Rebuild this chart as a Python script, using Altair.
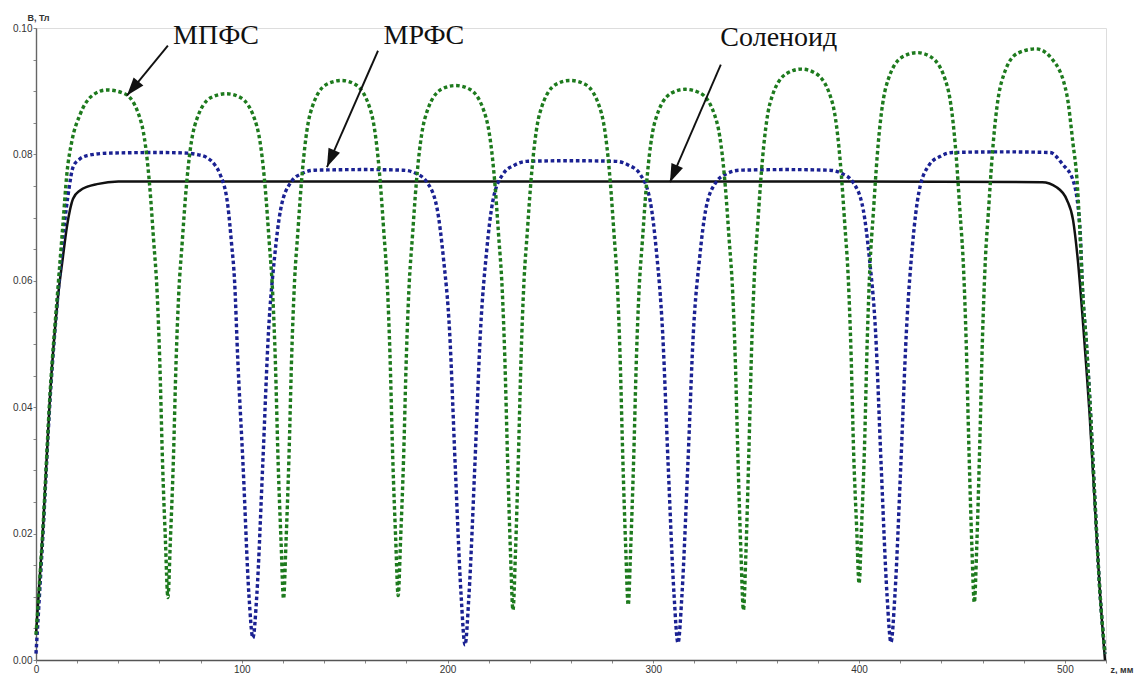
import altair as alt
import pandas as pd

# ---------------- data ----------------
# МПФС (green dotted)
green_z = [
    0, 3.4, 6.8, 10.7, 13.1, 15, 17.5, 21.4, 27.7, 34.5,
    43.1, 51.1, 55.3, 57.1, 58.9, 60.1, 61.5, 62.9, 64.1,
    65.3, 66.7, 68.1, 69.3, 71.1, 72.9, 77.1, 85.1, 92.5,
    99.3, 107.3, 111.5, 113.3, 115.1, 116.3, 117.7, 119.1, 120.3,
    121.5, 122.9, 124.3, 125.5, 127.3, 129.1, 133.3, 141.3, 148.5,
    155, 163, 167.2, 169, 170.8, 172, 173.4, 174.8, 176,
    177.2, 178.6, 180, 181.2, 183, 184.8, 189, 197, 203.8,
    210.8, 218.8, 223, 224.8, 226.6, 227.8, 229.2, 230.6, 231.8,
    233, 234.4, 235.8, 237, 238.8, 240.6, 244.8, 252.8, 259.5,
    266.8, 274.8, 279, 280.8, 282.6, 283.8, 285.2, 286.6, 287.8,
    289, 290.4, 291.8, 293, 294.8, 296.6, 300.8, 308.8, 315.6,
    322.8, 330.8, 335, 336.8, 338.6, 339.8, 341.2, 342.6, 343.8,
    345, 346.4, 347.8, 349, 350.8, 352.6, 356.8, 364.8, 372,
    379, 387, 391.2, 393, 394.8, 396, 397.4, 398.8, 400,
    401.2, 402.6, 404, 405.2, 407, 408.8, 413, 421, 428.3,
    435, 443, 447.2, 449, 450.8, 452, 453.4, 454.8, 456,
    457.2, 458.6, 460, 461.2, 463, 464.8, 469, 477, 486,
    494, 501, 504, 505.8, 507.3, 508.7, 510.5, 512, 514.5, 517, 519.5,
]
green_b = [
    0.004, 0.021, 0.042, 0.059, 0.069, 0.0769, 0.0822, 0.0863, 0.0894, 0.0902,
    0.0896, 0.0851, 0.0748, 0.0667, 0.0579, 0.0478, 0.0312, 0.0189, 0.0099,
    0.0189, 0.0310, 0.0475, 0.0575, 0.0663, 0.0743, 0.0845, 0.0890, 0.0896,
    0.0890, 0.0845, 0.0743, 0.0663, 0.0575, 0.0475, 0.0310, 0.0187, 0.0097,
    0.0187, 0.0317, 0.0486, 0.0589, 0.0679, 0.0760, 0.0865, 0.0911, 0.0917,
    0.0911, 0.0865, 0.0760, 0.0679, 0.0589, 0.0486, 0.0317, 0.0192, 0.0102,
    0.0192, 0.0315, 0.0482, 0.0584, 0.0673, 0.0754, 0.0857, 0.0903, 0.0909,
    0.0903, 0.0857, 0.0754, 0.0673, 0.0584, 0.0482, 0.0315, 0.0169, 0.0079,
    0.0169, 0.0317, 0.0486, 0.0589, 0.0679, 0.0760, 0.0865, 0.0911, 0.0917,
    0.0911, 0.0865, 0.0760, 0.0679, 0.0589, 0.0486, 0.0317, 0.0177, 0.0087,
    0.0177, 0.0312, 0.0479, 0.0580, 0.0668, 0.0749, 0.0852, 0.0897, 0.0903,
    0.0897, 0.0852, 0.0749, 0.0668, 0.0580, 0.0479, 0.0312, 0.0169, 0.0079,
    0.0169, 0.0324, 0.0496, 0.0600, 0.0692, 0.0775, 0.0882, 0.0928, 0.0935,
    0.0928, 0.0882, 0.0775, 0.0692, 0.0600, 0.0496, 0.0324, 0.0211, 0.0121,
    0.0211, 0.0333, 0.0509, 0.0617, 0.0711, 0.0797, 0.0906, 0.0954, 0.0961,
    0.0954, 0.0906, 0.0797, 0.0711, 0.0617, 0.0509, 0.0333, 0.0181, 0.0091,
    0.0181, 0.0335, 0.0513, 0.0621, 0.0716, 0.0802, 0.0912, 0.0960, 0.0967,
    0.0950, 0.0894, 0.0816, 0.0764, 0.068, 0.058, 0.050, 0.042, 0.026, 0.011, 0.001,
]

# МРФС (blue dotted)
blue_z = [
    0, 3.4, 6.8, 10.7, 13.5, 16, 18, 21, 24.8, 35, 60, 73.4, 78, 83, 87, 89.4,
    93.3, 95, 96.5, 98, 100.6, 103.5, 105.4,
    107.3, 110.2, 113, 115.9, 118.9, 123.9, 129.4, 135.4, 160, 178.5,
    184.5, 190, 195, 198, 201, 203.7, 206.6, 208.5,
    210.4, 213.3, 216, 219, 222, 227, 232.5, 238.5, 260, 282,
    288, 293.5, 298.5, 301.5, 304.5, 307.2, 310.1, 312,
    313.9, 316.8, 319.5, 322.5, 325.5, 330.5, 336, 342, 365, 385.5,
    391.5, 397, 402, 405, 408, 410.7, 413.6, 415.5,
    417.4, 420.3, 423, 426, 429, 434, 439.5, 445.5, 470, 492.7,
    499, 504, 507.3, 508.7, 510.5, 512, 514.5, 517, 519.5,
]
blue_b = [
    0.001, 0.020, 0.041, 0.058, 0.068, 0.0745, 0.078, 0.0792, 0.0798, 0.0802, 0.0803, 0.0802,
    0.0800, 0.0795, 0.0783, 0.0769, 0.0717, 0.066, 0.060, 0.048, 0.031, 0.0102, 0.0035,
    0.0102, 0.031, 0.052, 0.0636, 0.0713, 0.0756, 0.0770, 0.0775, 0.0776, 0.0775,
    0.0770, 0.0756, 0.0713, 0.0636, 0.052, 0.031, 0.0102, 0.0024,
    0.0102, 0.031, 0.052, 0.0647, 0.0726, 0.0769, 0.0783, 0.0789, 0.0790, 0.0789,
    0.0783, 0.0769, 0.0726, 0.0647, 0.052, 0.031, 0.0102, 0.0027,
    0.0102, 0.031, 0.052, 0.0636, 0.0713, 0.0756, 0.0770, 0.0775, 0.0776, 0.0775,
    0.0770, 0.0756, 0.0713, 0.0636, 0.052, 0.031, 0.0102, 0.0028,
    0.0102, 0.031, 0.052, 0.0658, 0.0739, 0.0783, 0.0797, 0.0803, 0.0804, 0.0803,
    0.0784, 0.0759, 0.0685, 0.058, 0.050, 0.042, 0.026, 0.011, 0.001,
]

# Соленоид (black solid)
black_z = [0, 3.4, 6.8, 10.7, 13.1, 15, 16.5, 18, 21.4, 25, 29.6, 40, 100, 200, 300, 400,
           489, 496, 501, 504, 506.3, 508.7, 510.5, 512, 514.5, 517, 519.5]
black_b = [0.004, 0.0208, 0.0417, 0.0575, 0.0638, 0.0685, 0.0712, 0.0730, 0.0743, 0.0749,
           0.0753, 0.0757, 0.0757, 0.0757, 0.0757, 0.0757, 0.0756, 0.0748, 0.0728, 0.0696,
           0.0633, 0.0539, 0.046, 0.039, 0.025, 0.011, 0.0]

# axis ticks
x_ticks = [0, 20, 40, 60, 80, 100, 120, 140, 160, 180, 200, 220, 240, 260, 280, 300,
           320, 340, 360, 380, 400, 420, 440, 460, 480, 500, 520]
y_ticks = [0.0, 0.005, 0.01, 0.015, 0.02, 0.025, 0.03, 0.035, 0.04, 0.045, 0.05,
           0.055, 0.06, 0.065, 0.07, 0.075, 0.08, 0.085, 0.09, 0.095, 0.1]

# annotations
ann_text = ["МПФС", "МРФС", "Соленоид"]
ann_z = [87.5, 188.5, 361.0]
ann_b = [0.0987, 0.0987, 0.0984]
arrow_z1 = [64.1, 166.2, 332.8]
arrow_b1 = [0.0972, 0.0964, 0.0942]
arrow_z2 = [44.2, 141.4, 308.1]
arrow_b2 = [0.0893, 0.0780, 0.0756]
arrow_angle = [219.3, 203.6, 203.4]

# ---------------- chart ----------------
W, H = 1070, 632
xs = alt.Scale(domain=[0, 520], nice=False, zero=False)
ys = alt.Scale(domain=[0, 0.10], nice=False)

xaxis = alt.Axis(
    values=x_ticks, format="d",
    labelExpr="datum.value % 100 == 0 ? datum.label : ''",
    labelOverlap=False, labelFlush=False, grid=False,
    domainColor="#555555", domainWidth=1.6, tickColor="#888888", tickSize=3, tickWidth=1,
    labelFontSize=10, labelColor="#333333", labelFont="Liberation Sans", labelPadding=1,
    title="z, мм", titleFont="Liberation Sans", titleFontSize=9, titleFontWeight="bold",
    titleColor="#333333", titleAngle=0, titleAlign="left", titleBaseline="middle",
    titleX=1074, titleY=9,
)
yaxis = alt.Axis(
    values=y_ticks,
    labelExpr="round(datum.value * 1000) % 20 == 0 ? format(datum.value, '.2f') : ''",
    labelOverlap=False, grid=False,
    domainColor="#666666", domainWidth=1.4, tickColor="#888888", tickSize=3, tickWidth=1,
    labelFontSize=10, labelColor="#333333", labelFont="Liberation Sans", labelPadding=1,
    title="B, Тл", titleFont="Liberation Sans", titleFontSize=9, titleFontWeight="bold",
    titleColor="#333333", titleAngle=0, titleAlign="center", titleBaseline="bottom",
    titleX=2, titleY=-6,
)


def curve(z, b, **mark):
    df = pd.DataFrame({"z": z, "B": b})
    return alt.Chart(df).mark_line(interpolate="monotone", **mark).encode(
        x=alt.X("z:Q", scale=xs, axis=xaxis),
        y=alt.Y("B:Q", scale=ys, axis=yaxis),
    )


black = curve(black_z, black_b, color="#111111", strokeWidth=2.5)
blue = curve(blue_z, blue_b, color="#1a2192", strokeWidth=3.4,
             strokeDash=[3.6, 2.7], strokeCap="butt")
green = curve(green_z, green_b, color="#1d7a1d", strokeWidth=3.4,
              strokeDash=[3.6, 2.7], strokeCap="butt")

ann_df = pd.DataFrame({"label": ann_text, "z": ann_z, "B": ann_b})
arr_df = pd.DataFrame({"z1": arrow_z1, "b1": arrow_b1, "z2": arrow_z2, "b2": arrow_b2,
                       "angle": arrow_angle})

labels = alt.Chart(ann_df).mark_text(
    font="Liberation Serif", fontSize=28, color="#111111", align="center", baseline="middle"
).encode(
    x=alt.X("z:Q", scale=xs, axis=xaxis), y=alt.Y("B:Q", scale=ys, axis=yaxis), text="label:N"
)

arrow_lines = alt.Chart(arr_df).mark_rule(color="#111111", strokeWidth=1.9).encode(
    x=alt.X("z1:Q", scale=xs, axis=xaxis), y=alt.Y("b1:Q", scale=ys, axis=yaxis),
    x2="z2:Q", y2="b2:Q",
)

arrow_heads = alt.Chart(arr_df).mark_point(
    shape="M0,0L0.55,1.6L-0.55,1.6Z", filled=True, color="#111111", size=520, opacity=1,
    strokeWidth=0,
).encode(
    x=alt.X("z2:Q", scale=xs, axis=xaxis), y=alt.Y("b2:Q", scale=ys, axis=yaxis),
    angle=alt.Angle("angle:Q", scale=None),
)

chart = alt.layer(black, blue, green, arrow_lines, arrow_heads, labels).properties(
    width=W, height=H,
    autosize=alt.AutoSizeParams(type="none"),
    padding={"left": 28, "top": 20, "right": 31, "bottom": 14},
).configure_view(stroke=None).configure(background="white")

chart.save("out.html", embed_options={"renderer": "svg", "actions": False})
